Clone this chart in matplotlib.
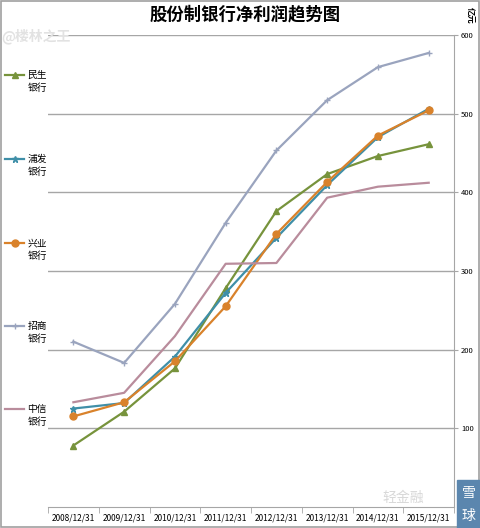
import matplotlib
matplotlib.use("Agg")
import matplotlib.pyplot as plt
from matplotlib.lines import Line2D
from matplotlib.patches import Rectangle

plt.rcParams['font.family'] = ['Noto Sans CJK SC', 'DejaVu Sans']

# data (亿元)
years = ["2008/12/31", "2009/12/31", "2010/12/31", "2011/12/31",
         "2012/12/31", "2013/12/31", "2014/12/31", "2015/12/31"]
minsheng = [78, 121, 176, 278, 376, 423, 446, 461]
pufa = [125, 132, 191, 272, 342, 409, 470, 506]
xingye = [115, 133, 185, 255, 347, 413, 472, 504]
zhaoshang = [210, 183, 258, 361, 453, 517, 559, 577]
zhongxin = [133, 145, 217, 309, 310, 393, 407, 412]

names = ["民生", "浦发", "兴业", "招商", "中信"]
series = [minsheng, pufa, xingye, zhaoshang, zhongxin]
colors = ["#77933C", "#3F8FA8", "#D9822B", "#9AA4BE", "#B98C9C"]
markers = ["^", "*", "o", "+", None]

fig = plt.figure(figsize=(4.8, 5.28), dpi=100)
ax = fig.add_axes([0.1, 0.04, 0.846, 0.894])

x = range(len(years))
for vals, c, m in zip(series, colors, markers):
    ax.plot(x, vals, color=c, lw=1.6, marker=m, markersize=5,
            markeredgewidth=1.0, zorder=3)

ax.set_xlim(-0.5, len(years) - 0.5)
ax.set_ylim(0, 600)
ax.set_yticks([100, 200, 300, 400, 500, 600])
ax.yaxis.tick_right()
ax.grid(axis="y", color="#A6A6A6", lw=1.0)
ax.set_axisbelow(True)
ax.tick_params(axis="y", length=3, color="#A6A6A6", labelsize=5.5, pad=2)

ax.set_xticks(list(x))
ax.set_xticklabels(years, fontsize=6)
ax.set_xticks([i - 0.5 for i in range(len(years) + 1)], minor=True)
ax.tick_params(axis="x", which="major", length=0, pad=5)
ax.tick_params(axis="x", which="minor", length=4, color="#A6A6A6")

for s in ["top", "left"]:
    ax.spines[s].set_visible(False)
ax.spines["right"].set_color("#A6A6A6")
ax.spines["bottom"].set_color("#A6A6A6")

fig.text(0.51, 0.972, "股份制银行净利润趋势图", ha="center", va="center",
         fontsize=12.5, fontweight="bold")
fig.text(0.978, 0.97, "亿元", ha="center", va="center", fontsize=6,
         rotation=270, fontweight="bold")

# legend on the left: handle beside first line, "银行" below
legend_y = [75, 159, 243, 326, 409]
for name, c, m, py in zip(names, colors, markers, legend_y):
    fy = 1 - py / 528
    fig.add_artist(Line2D([5 / 480, 24 / 480], [fy, fy], color=c, lw=1.6,
                          transform=fig.transFigure))
    if m:
        fig.add_artist(Line2D([14.5 / 480], [fy], color=c, marker=m, markersize=5,
                              markeredgewidth=1.0, transform=fig.transFigure))
    fig.text(27.5 / 480, fy, name, ha="left", va="center", fontsize=7)
    fig.text(27.5 / 480, fy - 13 / 528, "银行", ha="left", va="center", fontsize=7)

# watermarks
fig.text(0.075, 0.932, "@楼林之王", ha="center", va="center", fontsize=10,
         color="#E2E2E2", fontweight="bold")
fig.text(0.84, 0.057, "轻金融", ha="center", va="center", fontsize=10,
         color="#D8D8D8")
fig.patches.append(Rectangle((0.952, 0.0), 0.048, 0.09, transform=fig.transFigure,
                             color="#5B86AE", zorder=5))
fig.text(0.976, 0.066, "雪", ha="center", va="center", fontsize=10,
         color="white", zorder=6)
fig.text(0.976, 0.022, "球", ha="center", va="center", fontsize=10,
         color="white", zorder=6)

fig.patches.append(Rectangle((0.002, 0.002), 0.996, 0.996, transform=fig.transFigure,
                             fill=False, edgecolor="#A0A0A0", lw=1.2))

fig.savefig("out.png", dpi=100)
